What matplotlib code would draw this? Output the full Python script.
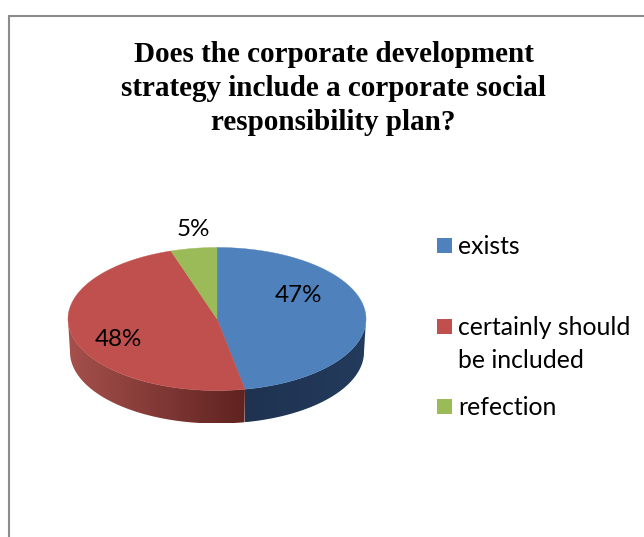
import numpy as np
import matplotlib
matplotlib.use('Agg')
import matplotlib.pyplot as plt
from matplotlib.colors import to_rgb
from matplotlib.patches import Polygon, Rectangle

title = 'Does the corporate development\nstrategy include a corporate social\nresponsibility plan?'
labels = ['exists', 'certainly should\nbe included', 'refection']
values = [47, 48, 5]
top_colors = ['#4f81bd', '#c0504d', '#9bbb59']
wall_left = ['#1f3250', '#a5504c', '#76903f']
wall_right = ['#233b5c', '#5f2320', '#76903f']

cx, cy = 217, 319
rx, ry = 149, 71.5
rx_low = 147
depth = 33


def rim(angles, radius=rx, drop=0):
    # angles run clockwise from twelve o'clock
    return cx + radius * np.sin(angles), cy + drop - ry * np.cos(angles)


fig = plt.figure(figsize=(6.44, 5.37), dpi=100)
ax = fig.add_axes([0, 0, 1, 1])
ax.axis('off')

# frame of the chart, only left and top stay in view
ax.plot([9.5, 9.5, 650], [540, 15.5, 15.5], color='#8c8c8c', lw=1.5, solid_joinstyle='miter')

edges = np.radians(np.cumsum([0] + values) / sum(values) * 360)

# side wall, front half only, one clipped gradient per slice
for i in range(len(values)):
    a0, a1 = max(edges[i], np.pi / 2), min(edges[i + 1], 1.5 * np.pi)
    if a1 <= a0:
        continue
    steps = np.linspace(a0, a1, 120)
    x_up, y_up = rim(steps)
    x_lo, y_lo = rim(steps, rx_low, depth)
    outline = np.column_stack([np.r_[x_up, x_lo[::-1]], np.r_[y_up, y_lo[::-1]]])
    shade = np.linspace(0, 1, 256)[None, :, None]
    grad = (1 - shade) * np.array(to_rgb(wall_left[i])) + shade * np.array(to_rgb(wall_right[i]))
    x0, x1 = outline[:, 0].min(), outline[:, 0].max()
    y0, y1 = outline[:, 1].min(), outline[:, 1].max()
    im = ax.imshow(grad, extent=(x0, x1, y1, y0), aspect='auto', interpolation='bilinear')
    clip = Polygon(outline, closed=True, transform=ax.transData, facecolor='none', edgecolor='none')
    ax.add_patch(clip)
    im.set_clip_path(clip)

# top face
for i in range(len(values)):
    steps = np.linspace(edges[i], edges[i + 1], 120)
    xs, ys = rim(steps)
    pts = np.column_stack([np.r_[cx, xs], np.r_[cy, ys]])
    ax.add_patch(Polygon(pts, closed=True, facecolor=top_colors[i], edgecolor=top_colors[i], lw=0.3))

label_font = ['Lato', 'DejaVu Sans']
pct_pos = [(298, 296), (118, 340), (193, 230)]
for v, (px, py) in zip(values, pct_pos):
    ax.text(px, py, f'{v}%', ha='center', va='center', fontsize=17.4, family=label_font, color='black')

# legend
legend_y = [245.5, 326.5, 406.5]
for lab, col, ly in zip(labels, top_colors, legend_y):
    ax.add_patch(Rectangle((437, ly - 7.5), 15, 15, facecolor=col, edgecolor='none'))
    ax.text(458, ly - 10.5, lab, ha='left', va='top', fontsize=17.8, family=label_font,
            color='black', linespacing=1.5)

ax.text(333.5, 88.5, title, ha='center', va='center', fontsize=21, fontweight='bold',
        family='Liberation Serif', color='black', linespacing=1.33)

# imshow resets the limits, so they are set last
ax.set_xlim(0, 644)
ax.set_ylim(537, 0)

fig.savefig('out.png', dpi=100)
